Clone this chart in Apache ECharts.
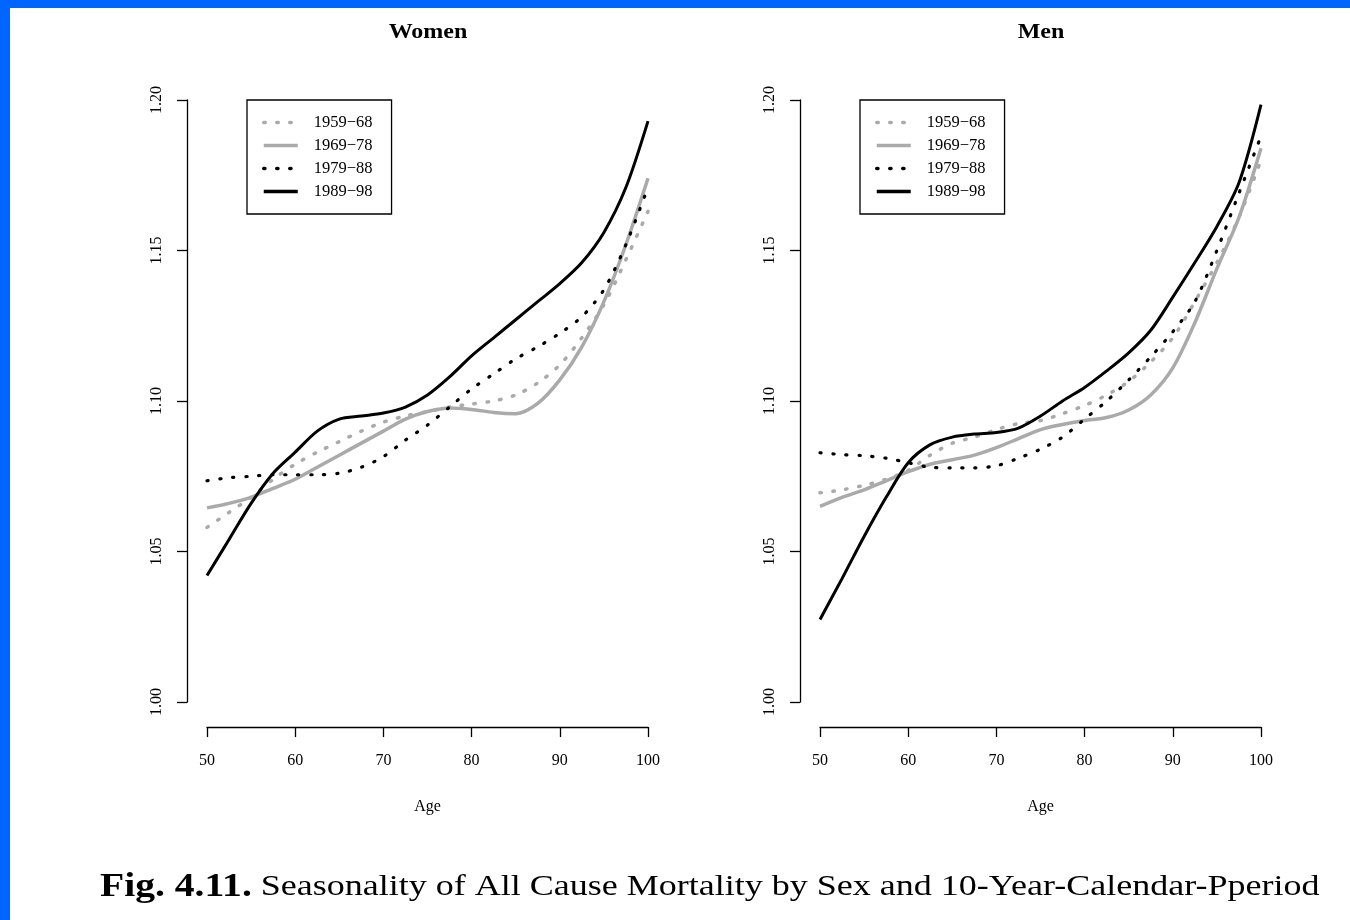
<!DOCTYPE html>
<html>
<head>
<meta charset="utf-8">
<script src="https://cdn.jsdelivr.net/npm/echarts@6/dist/echarts.min.js"></script>
<style>
html, body { margin: 0; padding: 0; background: #0066ff; overflow: hidden; }
#main { position: absolute; left: 10px; top: 8px; width: 1340px; height: 912px; background: #fff; }
</style>
</head>
<body>
<div id="main"></div>
<script>
var ages = [50, 52.5, 55, 57.5, 60, 62.5, 65, 67.5, 70, 72.5, 75, 77.5, 80, 82.5, 85, 87.5, 90, 92.5, 95, 97.5, 100];
var periods = ['1959\u221268', '1969\u221278', '1979\u221288', '1989\u221298'];

// Women
var women5968 = [1.058, 1.063, 1.068, 1.074, 1.079, 1.083, 1.0865, 1.090, 1.093, 1.095, 1.0965, 1.098, 1.099, 1.100, 1.102, 1.106, 1.112, 1.121, 1.132, 1.147, 1.163];
var women6978 = [1.0645, 1.066, 1.068, 1.071, 1.074, 1.078, 1.082, 1.086, 1.090, 1.094, 1.0965, 1.0977, 1.0972, 1.0962, 1.0958, 1.0992, 1.107, 1.118, 1.133, 1.152, 1.174];
var women7988 = [1.0735, 1.0745, 1.075, 1.0755, 1.0755, 1.0755, 1.076, 1.078, 1.0815, 1.087, 1.092, 1.098, 1.104, 1.109, 1.114, 1.118, 1.1225, 1.128, 1.137, 1.152, 1.171];
var women8998 = [1.042, 1.054, 1.066, 1.076, 1.083, 1.090, 1.094, 1.095, 1.096, 1.098, 1.102, 1.108, 1.115, 1.121, 1.127, 1.133, 1.139, 1.146, 1.156, 1.171, 1.193];

// Men
var men5968 = [1.0695, 1.0705, 1.072, 1.074, 1.077, 1.082, 1.086, 1.088, 1.0905, 1.0925, 1.0935, 1.0958, 1.0985, 1.102, 1.1065, 1.113, 1.121, 1.133, 1.146, 1.161, 1.180];
var men6978 = [1.065, 1.068, 1.0705, 1.0735, 1.0765, 1.079, 1.0805, 1.082, 1.0845, 1.0875, 1.0905, 1.0922, 1.0935, 1.0945, 1.097, 1.102, 1.111, 1.126, 1.144, 1.161, 1.184];
var men7988 = [1.0828, 1.0822, 1.0818, 1.081, 1.0795, 1.078, 1.0778, 1.0778, 1.0785, 1.081, 1.084, 1.088, 1.094, 1.100, 1.107, 1.1147, 1.123, 1.133, 1.150, 1.169, 1.188];
var men8998 = [1.0274, 1.041, 1.055, 1.068, 1.0795, 1.0855, 1.088, 1.089, 1.0895, 1.091, 1.095, 1.100, 1.1045, 1.110, 1.116, 1.1235, 1.1345, 1.146, 1.158, 1.1725, 1.1985];

var serif = '"Liberation Serif", "DejaVu Serif", serif';
var grey = '#aaaaaa';

var styles = [
    { color: grey, width: 3.5, type: [1.5, 11.5], cap: 'round' },
    { color: grey, width: 3.5, type: 'solid' },
    { color: '#000', width: 3.2, type: [1.2, 11.8], cap: 'round' },
    { color: '#000', width: 3, type: 'solid' }
];

function pairs(vals) {
    return ages.map(function (a, i) { return [a, vals[i]]; });
}

function makeSeries(idx, lists) {
    return lists.map(function (vals, k) {
        return {
            name: periods[k],
            type: 'line',
            xAxisIndex: idx,
            yAxisIndex: idx,
            data: pairs(vals),
            smooth: 0.3,
            showSymbol: false,
            symbol: 'none',
            color: styles[k].color,
            lineStyle: styles[k],
            z: 2 + k
        };
    });
}

function xAxisOf(idx) {
    return {
        gridIndex: idx,
        type: 'value',
        min: 50,
        max: 100,
        interval: 10,
        offset: 25,
        name: 'Age',
        nameLocation: 'middle',
        nameGap: 72,
        nameTextStyle: { fontFamily: serif, fontSize: 16, color: '#000' },
        axisLine: { show: true, lineStyle: { color: '#000', width: 1.3 } },
        axisTick: { show: true, inside: false, length: 10, lineStyle: { color: '#000', width: 1.3 } },
        axisLabel: { fontFamily: serif, fontSize: 16, color: '#000', margin: 26 },
        splitLine: { show: false }
    };
}

function yAxisOf(idx) {
    return {
        gridIndex: idx,
        type: 'value',
        min: 1.00,
        max: 1.20,
        interval: 0.05,
        offset: 20,
        axisLine: { show: true, lineStyle: { color: '#000', width: 1.3 } },
        axisTick: { show: true, inside: false, length: 10, lineStyle: { color: '#000', width: 1.3 } },
        axisLabel: {
            fontFamily: serif, fontSize: 16, color: '#000', margin: 22, rotate: 90,
            formatter: function (v) { return v.toFixed(2); }
        },
        splitLine: { show: false }
    };
}

function legendOf(left) {
    return {
        orient: 'vertical',
        left: left,
        top: 92,
        data: periods,
        itemWidth: 34,
        itemHeight: 14,
        itemGap: 6,
        padding: [14, 19, 14, 15],
        borderColor: '#000',
        borderWidth: 1.3,
        backgroundColor: '#fff',
        itemStyle: { opacity: 0 },
        lineStyle: { width: 3.5 },
        textStyle: { fontFamily: serif, fontSize: 16.5, lineHeight: 16, color: '#000', padding: [0, 0, 0, 11] }
    };
}

var myChart = echarts.init(document.getElementById('main'));

option = {
    animation: false,
    backgroundColor: '#fff',
    grid: [
        { left: 197, top: 92, width: 441, height: 602 },
        { left: 810, top: 92, width: 441, height: 602 }
    ],
    xAxis: [xAxisOf(0), xAxisOf(1)],
    yAxis: [yAxisOf(0), yAxisOf(1)],
    legend: [legendOf(237), legendOf(850)],
    graphic: [
        { type: 'text', x: 418, y: 25, scaleX: 1.2, style: { text: 'Women', textAlign: 'center', textVerticalAlign: 'middle', font: 'bold 20px ' + serif, fill: '#000' } },
        { type: 'text', x: 1031, y: 25, scaleX: 1.2, style: { text: 'Men', textAlign: 'center', textVerticalAlign: 'middle', font: 'bold 20px ' + serif, fill: '#000' } },
        {
            type: 'text', x: 90, y: 879, scaleX: 1.2,
            style: {
                text: '{b|Fig. 4.11.} Seasonality of All Cause Mortality by Sex and 10-Year-Calendar-Pperiod',
                textVerticalAlign: 'middle',
                font: '30px ' + serif,
                fill: '#000',
                rich: { b: { fontWeight: 'bold', fontSize: 33, fontFamily: serif } }
            }
        }
    ],
    series: makeSeries(0, [women5968, women6978, women7988, women8998])
        .concat(makeSeries(1, [men5968, men6978, men7988, men8998]))
};

myChart.setOption(option);
</script>
</body>
</html>
